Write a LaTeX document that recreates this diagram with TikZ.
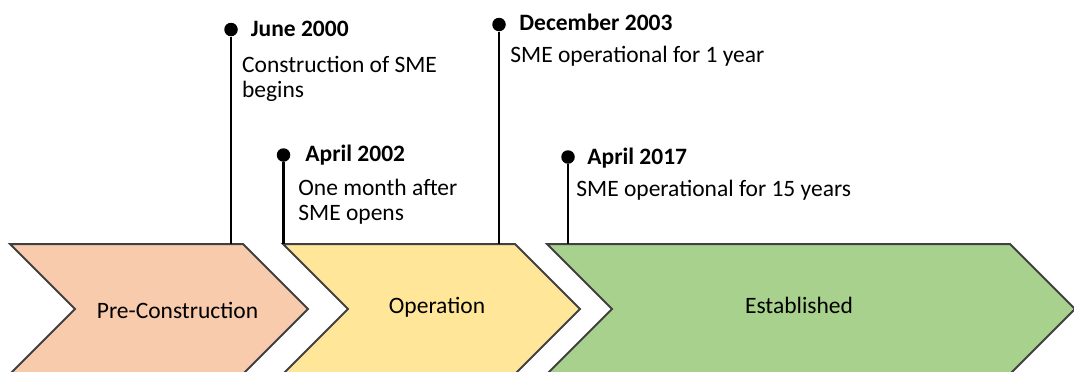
\documentclass[tikz,border=0pt]{standalone}
\usepackage{fontspec}
\setmainfont{Carlito}
\definecolor{preC}{HTML}{F8CBAD}
\definecolor{operC}{HTML}{FFE699}
\definecolor{estC}{HTML}{A9D18E}
\definecolor{edgeC}{HTML}{404040}
\begin{document}
\begin{tikzpicture}[x=0.5pt,y=-0.5pt,
  phase/.style={draw=edgeC, line width=1pt, line join=miter},
  dot/.style={circle, fill=black, inner sep=0pt, minimum size=6.75pt},
  stem/.style={line width=1.15pt},
  phasename/.style={anchor=base, inner sep=0pt, font=\fontsize{11.75}{12.3}\selectfont},
  date/.style={anchor=base west, inner sep=0pt, font=\bfseries\fontsize{11.75}{12.3}\selectfont},
  note/.style={anchor=base west, inner sep=0pt, align=left, font=\fontsize{11.75}{12.3}\selectfont}]
\useasboundingbox (0,0) rectangle (1074,371);
\clip (0,0) rectangle (1074,371);
\coordinate (top) at (0,244);

% the three phases
\draw[phase, fill=preC]  (10,244) -- (243,244) -- (308,309) -- (243,374) -- (10,374) -- (75,309) -- cycle;
\draw[phase, fill=operC] (283,244) -- (515,244) -- (580,309) -- (515,374) -- (283,374) -- (348,309) -- cycle;
\draw[phase, fill=estC]  (547,244) -- (1010,244) -- (1075,309) -- (1010,374) -- (547,374) -- (612,309) -- cycle;
\node[phasename] (pre) at (177.5,318) {Pre-Construction};
\node[phasename] (oper) at (437,313) {Operation};
\node[phasename] (est) at (799,313) {Established};

% milestones (two-line notes sit on their last baseline)
\node[dot] (d1) at (231,29.5) {};
\node[date] (t1) at (250.5,36.5) {June 2000};
\node[note] (n1) at (241.7,97.3) {Construction of SME\\begins};
\draw[stem] (d1) -- (d1 |- top);

\node[dot] (d2) at (283.5,155) {};
\node[date] (t2) at (305,161) {April 2002};
\node[note] (n2) at (298,220.5) {One month after\\SME opens};
\draw[stem] (d2) -- (d2 |- top);

\node[dot] (d3) at (499,24.5) {};
\node[date] (t3) at (519,30) {December 2003};
\node[note] (n3) at (510,62) {SME operational for 1 year};
\draw[stem] (d3) -- (d3 |- top);

\node[dot] (d4) at (568,157) {};
\node[date] (t4) at (587,164) {April 2017};
\node[note] (n4) at (576,196.7) {SME operational for 15 years};
\draw[stem] (d4) -- (d4 |- top);
\end{tikzpicture}
\end{document}
